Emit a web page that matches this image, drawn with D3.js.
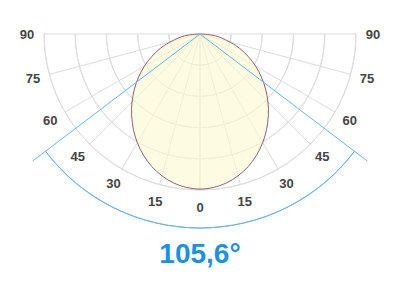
<!DOCTYPE html>
<html>
<head>
<meta charset="utf-8">
<script src="https://cdn.jsdelivr.net/npm/d3@7"></script>
<style>
  html, body { margin: 0; padding: 0; background: #fff; }
  svg { display: block; }
</style>
</head>
<body>
<div id="chart"></div>
<script>
// polar intensity, relative % (angle 0 = straight down)
const angles = [0, 10, 20, 30, 40, 50, 60, 70, 80, 85, 90];
const intensity = [99.4, 97.0, 90.4, 80.4, 68.2, 54.9, 41.1, 27.2, 13.6, 6.8, 0];
const gridRings = [20, 40, 60, 80, 100];
const tickAngles = [0, 15, 30, 45, 60, 75, 90];
const beamAngle = 105.6;

const width = 400, height = 300;
const cx = 200, cy = 34;
const rMax = 156;

const svg = d3.select('#chart').append('svg')
  .attr('width', width).attr('height', height);

const r = d3.scaleLinear().domain([0, 100]).range([0, rMax]);
// angle 0 points down; positive to the right
const pt = (deg, rad) => {
  const a = deg * Math.PI / 180;
  return [cx + rad * Math.sin(a), cy + rad * Math.cos(a)];
};

const g = svg.append('g');

// grid rings (lower half)
const arc = d3.arc();
gridRings.forEach(v => {
  g.append('path')
    .attr('transform', `translate(${cx},${cy})`)
    .attr('d', arc({ innerRadius: r(v), outerRadius: r(v), startAngle: Math.PI / 2, endAngle: 3 * Math.PI / 2 }))
    .attr('fill', 'none').attr('stroke', '#dcdcdc').attr('stroke-width', 1);
});

// radial spokes
tickAngles.forEach(t => {
  [-t, t].forEach(s => {
    const p = pt(s, rMax);
    g.append('line')
      .attr('x1', cx).attr('y1', cy).attr('x2', p[0]).attr('y2', p[1])
      .attr('stroke', '#dcdcdc').attr('stroke-width', 1);
  });
});

// intensity curve, mirrored both sides
const pts = [];
for (let i = angles.length - 1; i >= 0; i--) pts.push([-angles[i], intensity[i]]);
for (let i = 1; i < angles.length; i++) pts.push([angles[i], intensity[i]]);

const line = d3.line()
  .x(d => pt(d[0], r(d[1]))[0])
  .y(d => pt(d[0], r(d[1]))[1])
  .curve(d3.curveCatmullRom);

svg.append('path')
  .datum(pts)
  .attr('d', line)
  .attr('fill', '#fcfbd2').attr('fill-opacity', 0.65)
  .attr('stroke', '#8e6072').attr('stroke-width', 1);

// beam angle lines and arc
const half = beamAngle / 2;
const blue = '#6cb4e4';
[-half, half].forEach(s => {
  const p = pt(s, 210);
  svg.append('line')
    .attr('x1', cx).attr('y1', cy).attr('x2', p[0]).attr('y2', p[1])
    .attr('stroke', blue).attr('stroke-width', 1);
});
svg.append('path')
  .attr('transform', `translate(${cx},${cy})`)
  .attr('d', arc({
    innerRadius: 194, outerRadius: 194,
    startAngle: Math.PI - half * Math.PI / 180,
    endAngle: Math.PI + half * Math.PI / 180
  }))
  .attr('fill', 'none').attr('stroke', blue).attr('stroke-width', 1);

// angle labels
tickAngles.forEach(t => {
  const sides = t === 0 ? [0] : [-t, t];
  sides.forEach(s => {
    const p = pt(s, 173);
    svg.append('text')
      .attr('x', p[0]).attr('y', p[1])
      .attr('text-anchor', 'middle').attr('dominant-baseline', 'central')
      .attr('font-family', 'Liberation Sans, Arial, sans-serif')
      .attr('font-weight', 'bold').attr('font-size', 13)
      .attr('fill', '#444')
      .text(t);
  });
});

// beam angle title
svg.append('text')
  .attr('x', cx).attr('y', 263)
  .attr('text-anchor', 'middle')
  .attr('font-family', 'Liberation Sans, Arial, sans-serif')
  .attr('font-weight', 'bold').attr('font-size', 28)
  .attr('fill', '#1a90e8')
  .text(d3.format('.1f')(beamAngle).replace('.', ',') + '°');
</script>
</body>
</html>
